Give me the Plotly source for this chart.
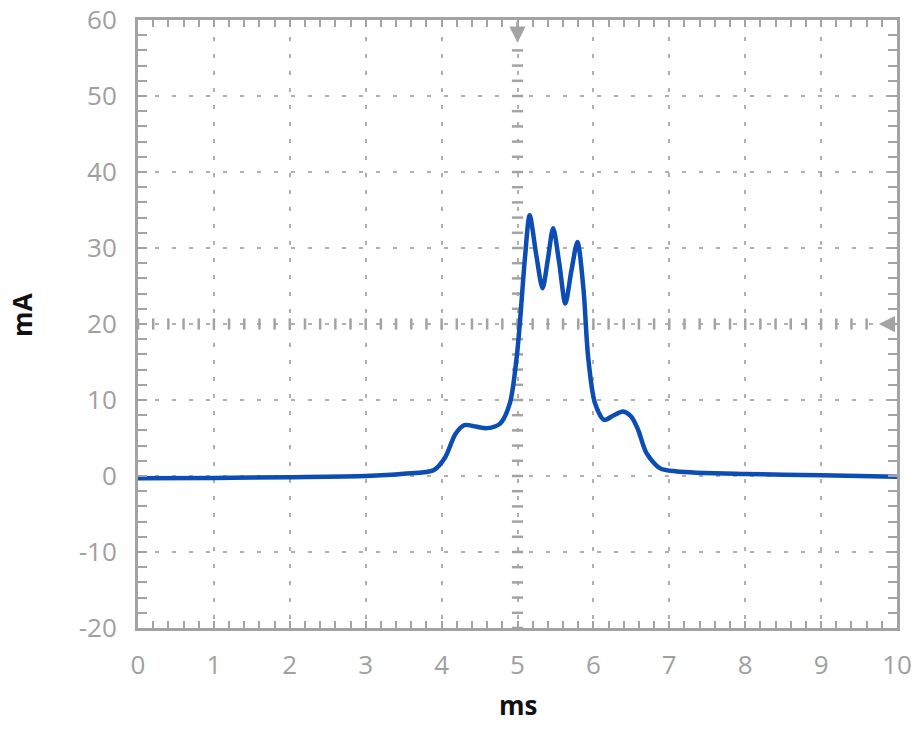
import plotly.graph_objects as go

# ---- data ----
time_ms = [0, 1, 2, 3, 3.5, 3.9, 4.05, 4.18, 4.3, 4.45, 4.6, 4.77, 4.9, 4.99, 5.03,
           5.10, 5.16, 5.25, 5.33, 5.40, 5.47, 5.55, 5.63, 5.71, 5.79, 5.87, 5.93,
           6.02, 6.14, 6.27, 6.39, 6.5, 6.59, 6.7, 6.88, 7.1, 8, 9, 10]
current_mA = [-0.3, -0.25, -0.15, 0.0, 0.3, 0.8, 2.5, 5.5, 6.7, 6.5, 6.3, 6.9, 9.6, 15.7, 20.0,
              28.9, 34.3, 28.9, 24.7, 28.5, 32.6, 28.0, 22.7, 27.0, 30.8, 24.5, 15.7,
              9.6, 7.4, 8.0, 8.5, 7.8, 6.05, 3.0, 1.0, 0.6, 0.26, 0.1, -0.1]

x_ticks = [0, 1, 2, 3, 4, 5, 6, 7, 8, 9, 10]
x_labels = ["0", "1", "2", "3", "4", "5", "6", "7", "8", "9", "10"]
y_ticks = [-20, -10, 0, 10, 20, 30, 40, 50, 60]
y_labels = ["-20", "-10", "0", "10", "20", "30", "40", "50", "60"]

# centre crosshair graduations (oscilloscope style)
center_x = 5
center_y = 20
cross_y_marks = [y for y in range(-20, 57, 2)]
cross_x_marks = [i / 5 for i in range(0, 49)]

GRAY = "#a3a3a3"
LBL = "#a0a0a0"
BLUE = "#0b4db5"

fig = go.Figure()

# crosshair graduation dashes
fig.add_trace(go.Scatter(
    x=[center_x] * len(cross_y_marks), y=cross_y_marks, mode="markers",
    marker=dict(symbol="line-ew", size=8, line=dict(width=2.5, color=GRAY)),
    hoverinfo="skip", showlegend=False))
fig.add_trace(go.Scatter(
    x=cross_x_marks, y=[center_y] * len(cross_x_marks), mode="markers",
    marker=dict(symbol="line-ns", size=8, line=dict(width=2.5, color=GRAY)),
    hoverinfo="skip", showlegend=False))

# signal
fig.add_trace(go.Scatter(
    x=time_ms, y=current_mA, mode="lines",
    line=dict(color=BLUE, width=4.5, shape="spline", smoothing=0.8),
    showlegend=False))

# arrows (trigger markers)
fig.add_annotation(x=center_x, y=57.0, ax=center_x, ay=60, xref="x", yref="y",
                   axref="x", ayref="y", text="", showarrow=True, arrowhead=2,
                   arrowsize=1.3, arrowwidth=2.5, arrowcolor=GRAY)
fig.add_annotation(x=9.76, y=center_y, ax=10, ay=center_y, xref="x", yref="y",
                   axref="x", ayref="y", text="", showarrow=True, arrowhead=2,
                   arrowsize=1.3, arrowwidth=2.5, arrowcolor=GRAY)

# axis titles
fig.add_annotation(text="<b>ms</b>", xref="paper", yref="paper", x=0.5, y=0,
                   yanchor="middle", yshift=-77, showarrow=False,
                   font=dict(family="Open Sans", size=26, color="#111111"))
fig.add_annotation(text="<b>mA</b>", xref="paper", yref="paper", x=0, y=0.515,
                   xanchor="center", yanchor="middle", xshift=-116, textangle=-90,
                   showarrow=False, font=dict(family="Open Sans", size=26, color="#111111"))

axis_common = dict(
    showline=True, linecolor=GRAY, linewidth=3, mirror="allticks",
    ticks="inside", tickcolor=GRAY, tickwidth=2,
    showgrid=True, gridcolor="#b0b0b0", gridwidth=1.5, griddash="4px,13px",
    zeroline=False, automargin=False,
    tickfont=dict(family="Open Sans", size=26, color=LBL),
)

fig.update_xaxes(
    **axis_common, range=[0, 10], tickmode="array", tickvals=x_ticks, ticktext=x_labels,
    ticklen=7, ticklabelstandoff=12,
    minor=dict(dtick=0.2, ticks="inside", ticklen=7, tickwidth=2, tickcolor=GRAY, showgrid=False),
)
fig.update_yaxes(
    **axis_common, range=[-20, 60], tickmode="array", tickvals=y_ticks, ticktext=y_labels,
    ticklen=9, ticklabelstandoff=13,
    minor=dict(dtick=2, ticks="inside", ticklen=9, tickwidth=2, tickcolor=GRAY, showgrid=False),
)

fig.update_layout(
    width=918, height=740,
    margin=dict(l=138, r=21, t=20, b=112),
    plot_bgcolor="white", paper_bgcolor="white",
)

fig.write_html("out.html", config={"displayModeBar": False},
               post_script="document.body.style.margin='0px';document.body.style.overflow='hidden';")
